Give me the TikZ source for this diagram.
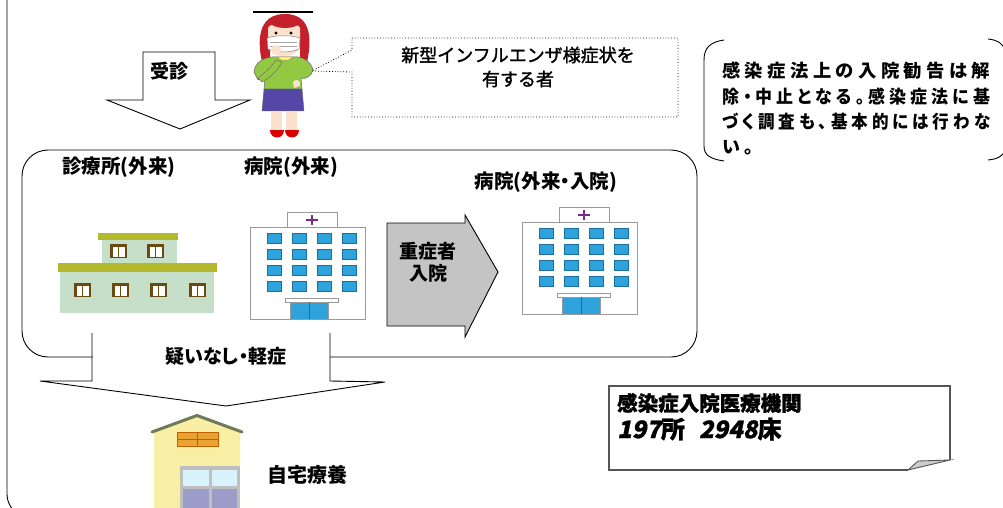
\documentclass[tikz,border=0pt]{standalone}
\usepackage{fontspec}
\newfontfamily\jp{Noto Sans CJK JP}
\newfontfamily\jpp[RawFeature=+palt]{Noto Sans CJK JP}
\newfontfamily\jpmed[FakeBold=1.6]{Noto Sans CJK JP}
\newfontfamily\jpsl[FakeSlant=0.2,FakeBold=1.2]{Noto Sans CJK JP}
\newfontfamily\jpheavy[FakeBold=1.2]{Noto Sans CJK JP}
\newfontfamily\jpwide[LetterSpace=24,RawFeature=+palt]{Noto Sans CJK JP}
\usetikzlibrary{calc}

\definecolor{olive}{HTML}{B4B82C}
\definecolor{sage}{HTML}{C6DFC9}
\definecolor{winbrown}{HTML}{6B4A12}
\definecolor{hospline}{HTML}{9A9A9A}
\definecolor{winblue}{HTML}{2EA2DA}
\definecolor{winedge}{HTML}{1B6FA0}
\definecolor{crosspurple}{HTML}{7B2A8A}
\definecolor{arrowgray}{HTML}{C4C4C4}
\definecolor{hairred}{HTML}{C4202C}
\definecolor{skin}{HTML}{FCE2CC}
\definecolor{sweater}{HTML}{92C842}
\definecolor{skirt}{HTML}{5646A8}
\definecolor{housewall}{HTML}{F8EFA4}
\definecolor{roofgreen}{HTML}{6E7A5A}
\definecolor{atticorange}{HTML}{EAA232}
\definecolor{memoline}{HTML}{555555}

% set a line of the bracketed note to a fixed width
\newcommand\noteline[1]{\resizebox{268pt}{\height}{#1}}

\tikzset{
  lbl/.style={font=\jpp\bfseries\fontsize{19.5}{22}\selectfont, inner sep=0pt},
  big/.style={font=\jpp\bfseries\fontsize{19}{22}\selectfont, inner sep=0pt},
  plain/.style={font=\jpmed\fontsize{18}{22}\selectfont, inner sep=0pt},
  notetext/.style={font=\jpwide\bfseries\fontsize{18}{20}\selectfont, inner sep=0pt, anchor=west},
  blockarrow/.style={draw=black, line width=0.9pt, fill=white},
  hosp/.style={draw=hospline, line width=0.8pt},
  cwin/.pic={
    \fill[winbrown] (0,0) rectangle (17,14);
    \fill[white] (2.5,3) rectangle (14.5,12.5);
    \fill[winbrown] (7.7,3) rectangle (9.3,12.5);
  },
  hospital/.pic={
    % roof sign with cross
    \draw[hosp, fill=white] (37,0) rectangle (87,-15);
    \fill[crosspurple] (56,-8.5) rectangle (68,-6);
    \fill[crosspurple] (60.7,-12) rectangle (63.3,-2.5);
    % main block
    \draw[hosp, fill=white] (0,0) rectangle (115,92);
    \foreach \cx in {17,42,67,92}
      \foreach \cy in {6,22,38,54}
        \draw[winedge, line width=0.6pt, fill=winblue] (\cx,\cy) rectangle ++(14,10);
    % entrance
    \draw[hosp, fill=white] (35,71) rectangle (88,75);
    \draw[hosp, fill=winblue] (40,75) rectangle (78,92);
    \draw[winedge, line width=0.6pt] (59,75) -- (59,92);
  }
}

\begin{document}
\begin{tikzpicture}[x=1pt, y=-1pt]
\useasboundingbox (0,0) rectangle (1003,508);
\clip (0,0) rectangle (1003,508);

% outer frame (left side and lower corner)
\draw[line width=0.9pt] (7,-5) -- (7,494) .. controls (7,500) and (9,505) .. (13,510);

% consultation arrow
\draw[blockarrow] (143,52) -- (215,52) -- (215,100) -- (250,100) -- (180,129)
  -- (107,100) -- (143,100) -- cycle;
\node[big, anchor=west] (jushin) at (150,71) {受診};

% patient figure
\draw[line width=1.4pt] (253,12) -- (313,12);
\begin{scope}
  % hair
  \fill[hairred] (262,62) .. controls (256,35) and (261,14) .. (285,14)
    .. controls (309,14) and (313,35) .. (307,62) -- (300,60) -- (300,30) -- (270,30) -- (270,60) -- cycle;
  % face
  \fill[skin] (268,28) .. controls (268,22) and (300,22) .. (300,28) -- (300,45)
    .. controls (300,60) and (268,60) .. (268,45) -- cycle;
  \fill[hairred] (268,22) .. controls (275,30) and (295,30) .. (302,22) .. controls (298,16) and (272,16) .. (268,22) -- cycle;
  % eyes
  \fill[black] (276,33) circle (1.6);
  \fill[black] (291,33) circle (1.6);
  % mask
  \draw[gray, line width=0.5pt, fill=white] (267,38) .. controls (275,35) and (292,35) .. (300,38)
    -- (299,49) .. controls (290,53) and (276,53) .. (268,49) -- cycle;
  \draw[gray!70, line width=0.4pt] (270,42) -- (297,42) (270,46) -- (297,46);
  % sweater body
  \draw[black!60, line width=0.5pt, fill=sweater] (272,57) .. controls (262,58) and (255,63) .. (254,72)
    -- (258,80) -- (265,76) -- (264,90) -- (302,90) -- (301,78)
    .. controls (305,80) and (312,76) .. (313,70)
    .. controls (311,62) and (305,58) .. (298,57) -- cycle;
  % collar
  \draw[black!50, line width=0.4pt, fill=yellow!60] (277,57) .. controls (281,62) and (289,62) .. (293,57) -- cycle;
  % raised arm with hand at chin
  \draw[black!60, line width=0.4pt, fill=sweater] (258,78) .. controls (266,72) and (272,66) .. (276,60) -- (282,62)
    .. controls (278,70) and (270,78) .. (262,82) -- cycle;
  \fill[skin] (276,50) circle (5);
  % hand on hip
  \fill[skin] (293,82) .. controls (296,78) and (301,80) .. (300,86) -- (294,88) -- cycle;
  % skirt
  \draw[black!60, line width=0.4pt, fill=skirt] (264,89) -- (302,89) -- (304,111) -- (262,111) -- cycle;
  % legs
  \fill[skin] (271,111) rectangle (282,131);
  \fill[skin] (286,111) rectangle (297,131);
  % shoes
  \fill[red!85!black] (270,130) .. controls (270,140) and (284,140) .. (284,130) -- cycle;
  \fill[red!85!black] (285,130) .. controls (285,140) and (299,140) .. (299,130) -- cycle;
\end{scope}

% speech callout
\draw[dotted, line width=0.8pt] (352,38) -- (678,38) -- (678,117) -- (352,117) -- (352,72)
  -- (312,71) -- (352,50) -- cycle;
\node[plain] (sym1) at (518,55) {新型インフルエンザ様症状を};
\node[plain] (sym2) at (518,79) {有する者};

% note in brackets (right)
\draw[line width=0.9pt] (724,40) .. controls (710,42) and (704,48) .. (704,60) -- (704,146)
  .. controls (704,155) and (710,159) .. (724,161);
\draw[line width=0.9pt] (988,39) .. controls (998,40) and (1003,44) .. (1005,50);
\draw[line width=0.9pt] (988,160) .. controls (998,159) and (1003,156) .. (1005,150);
\node[notetext] (n1) at (722,71) {\noteline{感染症法上の入院勧告は解}};
\node[notetext] (n2) at (722,96.5) {\noteline{除・中止となる。感染症法に基}};
\node[notetext] (n3) at (722,122) {\noteline{づく調査も、基本的には行わな}};
\node[notetext] (n4) at (722,147.5) {い。};

% care facilities group
\draw[line width=0.9pt] (22,150) [rounded corners=26pt] -- (22,357) -- (697,357) -- (697,150) -- cycle;
\node[lbl] (clinic) at (119,167) {診療所(外来)};
\node[lbl] (hosp1) at (291,167) {病院(外来)};
\node[lbl] (hosp2) at (546,182) {病院(外来・入院)};

% clinic building
\fill[sage] (102,240) rectangle (177,263);
\fill[olive] (98,233) rectangle (178,240);
\fill[olive] (58,263) rectangle (217,272);
\fill[sage] (60,272) rectangle (214,313);
\foreach \wx in {110,147} \pic at (\wx,244) {cwin};
\foreach \wx in {74,112,150,189} \pic at (\wx,283) {cwin};

% hospitals
\pic at (250,227) {hospital};
\pic at (522,222) {hospital};

% admission arrow
\draw[line width=0.9pt, fill=arrowgray] (387,223) -- (465,223) -- (465,215) -- (498,272)
  -- (465,337) -- (465,326) -- (387,326) -- cycle;
\node[big] (sev1) at (428,251) {重症者};
\node[big] (sev2) at (428,273) {入院};

% mild case arrow to home
\fill[white] (92.5,330) rectangle (329.5,381);
\draw[line width=0.9pt] (92,333) -- (92,381) -- (40,381) -- (226,406) -- (385,382) -- (330,381) -- (330,333);
\node[big] (mild) at (226,356) {疑いなし・軽症};

% house
\fill[housewall] (154,430) -- (197,416) -- (240,430) -- (240,508) -- (154,508) -- cycle;
\draw[roofgreen, line width=3pt, line cap=round] (152,432) -- (197,415.5) -- (242,432);
\draw[orange!75!black, line width=0.8pt, fill=atticorange] (177,432) rectangle (218,446);
\draw[orange!75!black, line width=0.8pt] (197.5,432) -- (197.5,446) (177,439) -- (218,439);
\fill[gray!50] (180,466) rectangle (240,508);
\fill[cyan!15] (183,470) rectangle (237,486);
\fill[gray!70!blue!60] (183,489) rectangle (237,508);
\fill[gray!50] (208.5,470) rectangle (211.5,508);
\node[big, font=\jpp\bfseries\fontsize{20}{22}\selectfont, anchor=west] (home) at (267,475) {自宅療養};

% designated hospitals memo
\draw[memoline, line width=1.1pt] (908,470) -- (609,470) -- (609,386) -- (950,386) -- (950,460);
\draw[memoline, line width=0.9pt, fill=gray!40] (908,470) -- (918,461) -- (950,460) -- cycle;
\node[font=\jpheavy\bfseries\fontsize{20.5}{22}\selectfont, inner sep=0pt, anchor=west] (memo1) at (617,403) {感染症入院医療機関};
\node[inner sep=0pt, anchor=west] (memo2) at (617,429)
  {\fontsize{24}{26}\selectfont\jpsl\bfseries 197\jpheavy 所\hspace{14pt}\jpsl 2948\jpheavy 床};
\end{tikzpicture}
\end{document}
